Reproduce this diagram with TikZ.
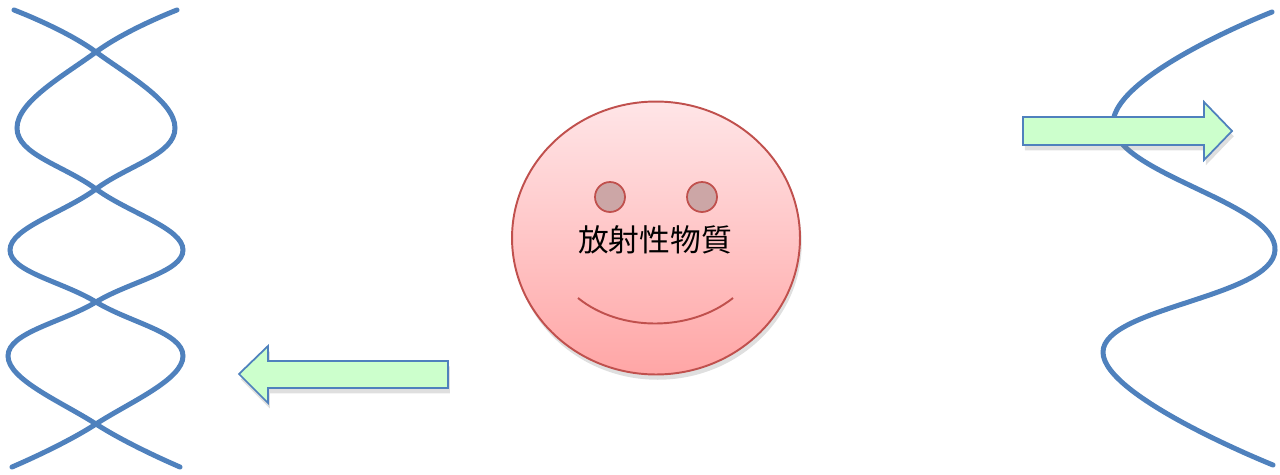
\documentclass[tikz,border=0pt]{standalone}
\usepackage{fontspec}
\newfontfamily\cjk{Noto Sans CJK JP}
\usepackage{tikz}
\usetikzlibrary{shapes.geometric}
\usetikzlibrary{shadows}

\definecolor{strandblue}{RGB}{79,129,189}
\definecolor{facerim}{RGB}{192,80,77}
\definecolor{facetop}{RGB}{255,229,231}
\definecolor{facebot}{RGB}{255,166,166}
\definecolor{eyefill}{RGB}{204,166,166}
\definecolor{arrowfill}{RGB}{204,255,204}

\begin{document}
\begin{tikzpicture}
    [
    x=0.02cm,y=-0.02cm,
    strand/.style={draw=strandblue,line width=0.1cm,line cap=round},
    face/.style={ellipse,draw=facerim,line width=1.1pt,top color=facetop,bottom color=facebot,
      minimum width=5.76cm,minimum height=5.46cm,inner sep=0pt,
      drop shadow={opacity=.25,shadow xshift=1pt,shadow yshift=-3pt}},
    eye/.style={circle,draw=facerim,fill=eyefill,line width=1pt,minimum size=0.6cm,inner sep=0pt},
    fatarrow/.style={draw=strandblue,fill=arrowfill,line width=1pt,line join=miter,
      drop shadow={opacity=.25,shadow xshift=1pt,shadow yshift=-3pt}},
    ]
    \useasboundingbox (0,0) rectangle (1280,474);

    % double strand on the left
    \draw [strand] plot [smooth,tension=0.7] coordinates
      {(14,10) (96,52) (175,128) (96,189) (10,250) (96,302) (183,356) (96,424) (12,467)};
    \draw [strand] plot [smooth,tension=0.7] coordinates
      {(177,10) (96,52) (17,128) (96,189) (183,250) (96,302) (8,356) (96,424) (180,467)};

    % single strand on the right
    \draw [strand] plot [smooth,tension=0.75] coordinates
      {(1272,12) (1113,124) (1275,250) (1103,352) (1273,465)};

    \draw [fatarrow] (1023,117) -- (1204,117) -- (1204,102) -- (1232,131)
      -- (1204,160) -- (1204,145) -- (1023,145) -- cycle;
    \draw [fatarrow] (448,361) -- (268,361) -- (268,346) -- (239,374)
      -- (268,403) -- (268,388) -- (448,388) -- cycle;

    \node (face) at (656,238) [face] {};
    \node (lefteye) at (610,197) [eye] {};
    \node (righteye) at (702,197) [eye] {};
    \node (name) at (655,240) [font=\cjk\fontsize{17.5}{20}\selectfont] {放射性物質};
    \coordinate (smileL) at (578,298);
    \coordinate (smileR) at (733,298);
    \draw [facerim,line width=1.1pt] (smileL) .. controls (620,332) and (690,332) .. (smileR);
\end{tikzpicture}
\end{document}
